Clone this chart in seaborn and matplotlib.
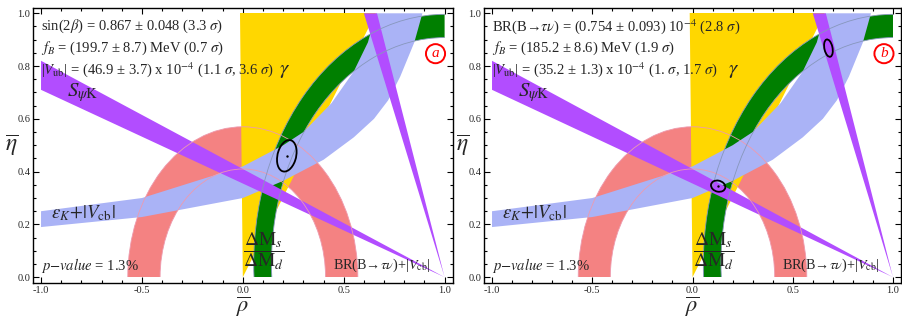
import matplotlib
matplotlib.use('Agg')
import matplotlib.pyplot as plt
from matplotlib.patches import Wedge, Polygon, Ellipse, Arc, Rectangle
from matplotlib.ticker import MultipleLocator, FormatStrFormatter
import seaborn as sns

# ---- values ----
panel_tags = ['a', 'b']

info_a = [r'sin(2$\beta$) = 0.867 ± 0.048 (3.3 $\sigma$)',
          r'$f_B$ = (199.7 ± 8.7) MeV (0.7 $\sigma$)',
          r'|$V_{\rm ub}$| = (46.9 ± 3.7) x 10$^{-4}$ (1.1 $\sigma$, 3.6 $\sigma$)']
info_b = [r'BR(B→$\tau\nu$) = (0.754 ± 0.093) 10$^{-4}$ (2.8 $\sigma$)',
          r'$f_B$ = (185.2 ± 8.6) MeV (1.9 $\sigma$)',
          r'|$V_{\rm ub}$| = (35.2 ± 1.3) x 10$^{-4}$ (1. $\sigma$, 1.7 $\sigma$)']

# |Vub/Vcb| annulus around the origin
rb_radii = [0.41, 0.57]
# gamma wedge from the origin (degrees)
gamma_deg = [56.6, 90.8]
# dMs/dMd ring
dm_center = [1.0, 0.05]
dm_radii = [0.858, 0.946]
# eps_K band edges
epsk_lo_rho = [-1.0, -0.5, 0.0, 0.2, 0.4, 0.55, 0.65, 0.72, 0.78, 0.85, 0.89]
epsk_lo_eta = [0.19, 0.228, 0.30, 0.365, 0.445, 0.53, 0.60, 0.67, 0.76, 0.89, 1.0]
epsk_hi_rho = [-1.0, -0.5, 0.0, 0.2, 0.3, 0.44, 0.55, 0.62, 0.66]
epsk_hi_eta = [0.25, 0.30, 0.42, 0.50, 0.55, 0.66, 0.78, 0.89, 1.0]
# S_psiK band: eta at rho=-1, both edges meet at (1, 0)
spk_eta_left = [0.71, 0.82]
# BR(B->tau nu)+|Vcb| band: rho at eta=1, edges meet at (1, 0)
btn_rho_top = [0.60, 0.665]
apex = [1.0, 0.0]

# fit ellipses (center x, center y, width, height, angle)
ell_a = [[0.218, 0.46, 0.09, 0.125, -25]]
ell_b = [[0.128, 0.345, 0.072, 0.042, -8], [0.678, 0.868, 0.04, 0.068, 18]]
dot_a_x, dot_a_y = [0.218], [0.46]
dot_b_x, dot_b_y = [0.128], [0.345]

c_red, c_yel, c_grn, c_blu, c_pur = '#F48282', '#FFD700', '#007F00', '#AAB3F6', '#B24DFF'

sns.set_theme(style='ticks')
plt.rcParams['font.family'] = ['Liberation Serif', 'DejaVu Serif']
plt.rcParams['mathtext.fontset'] = 'stix'

fig = plt.figure(figsize=(9.03, 3.22), dpi=100)
ax_a = fig.add_axes([0.0365, 0.1211, 0.4648, 0.854])
ax_b = fig.add_axes([0.536, 0.1211, 0.4618, 0.854])


def draw_panel(ax, tag, info, ells, dx, dy):
    clip = Rectangle((-1, 0), 2, 1, transform=ax.transData)

    def add(p, z):
        p.set_zorder(z)
        ax.add_patch(p)
        p.set_clip_path(clip)

    add(Wedge((0, 0), rb_radii[1], 0, 180, width=rb_radii[1] - rb_radii[0],
              fc=c_red, ec='none'), 1)
    add(Wedge((0, 0), 1.6, gamma_deg[0], gamma_deg[1], fc=c_yel, ec='none'), 2)
    add(Wedge(tuple(dm_center), dm_radii[1], 90, 186, width=dm_radii[1] - dm_radii[0],
              fc=c_grn, ec='none'), 3)
    pts = list(zip(epsk_lo_rho, epsk_lo_eta)) + list(zip(epsk_hi_rho, epsk_hi_eta))[::-1]
    add(Polygon(pts, closed=True, fc=c_blu, ec='none'), 4)
    add(Polygon([apex, (-1, spk_eta_left[0]), (-1, spk_eta_left[1])],
                fc=c_pur, ec='none'), 5)
    add(Polygon([apex, (btn_rho_top[0], 1), (btn_rho_top[1], 1)],
                fc=c_pur, ec='none'), 5)

    # thin boundary lines drawn on top
    for r in rb_radii:
        add(Arc((0, 0), 2 * r, 2 * r, theta1=0, theta2=180, color='#EE9AAE', lw=0.6), 6)
    for r in dm_radii:
        add(Arc(tuple(dm_center), 2 * r, 2 * r, theta1=90, theta2=186,
                color='#8797BC', lw=0.6), 6)

    for cx, cy, w, h, ang in ells:
        ax.add_patch(Ellipse((cx, cy), w, h, angle=ang, fc='none', ec='black',
                             lw=1.3, zorder=7))
    sns.scatterplot(x=dx, y=dy, ax=ax, color='black', s=3, linewidth=0, zorder=8)

    for i, line in enumerate(info):
        ax.text(-1.0, 0.95 - i * 0.082, line, fontsize=10.5, va='center', ha='left', zorder=9)
    ax.text(0.205, 0.784, r'$\gamma$', fontsize=15, va='center', ha='center', zorder=9)
    ax.text(-0.87, 0.70, r'$S_{\psi{\rm K}}$', fontsize=15, va='center', ha='left', zorder=9)
    ax.text(-0.95, 0.242, r'$\epsilon_K\!+\!|V_{\rm cb}|$', fontsize=13.5, va='center',
            ha='left', zorder=9)
    ax.text(-1.0, 0.045, r'$p{-}value$ = 1.3%', fontsize=10.5, va='center', ha='left', zorder=9)
    ax.text(0.106, 0.097, r'$\dfrac{\Delta{\rm M}_s}{\Delta{\rm M}_d}$', fontsize=14,
            va='center', ha='center', zorder=9)
    ax.text(0.445, 0.045, r'BR(B→$\tau\nu$)+|$V_{\rm cb}$|', fontsize=10.2,
            va='center', ha='left', zorder=9)
    ax.text(0.955, 0.847, tag, fontsize=11, style='italic', color='red', va='center',
            ha='center', zorder=9,
            bbox=dict(boxstyle='circle,pad=0.2', fc='white', ec='red', lw=1.4))

    ax.set_xlim(-1.04, 1.04)
    ax.set_ylim(-0.022, 1.02)
    ax.xaxis.set_major_locator(MultipleLocator(0.5))
    ax.xaxis.set_minor_locator(MultipleLocator(0.1))
    ax.yaxis.set_major_locator(MultipleLocator(0.2))
    ax.yaxis.set_minor_locator(MultipleLocator(0.05))
    ax.xaxis.set_major_formatter(FormatStrFormatter('%.1f'))
    ax.yaxis.set_major_formatter(FormatStrFormatter('%.1f'))
    ax.tick_params(which='both', direction='in', top=True, right=True, labelsize=7.5,
                   width=0.8, pad=2, color='black')
    ax.tick_params(which='major', length=4)
    ax.tick_params(which='minor', length=2.5)
    for s in ax.spines.values():
        s.set_color('black')
        s.set_linewidth(1.0)
    ax.set_xlabel(r'$\overline{\rho}$', fontsize=16, labelpad=0)
    ax.set_ylabel(r'$\overline{\eta}$', fontsize=17, rotation=0, labelpad=4, va='center')


draw_panel(ax_a, panel_tags[0], info_a, ell_a, dot_a_x, dot_a_y)
draw_panel(ax_b, panel_tags[1], info_b, ell_b, dot_b_x, dot_b_y)

fig.savefig('out.png', dpi=100)
